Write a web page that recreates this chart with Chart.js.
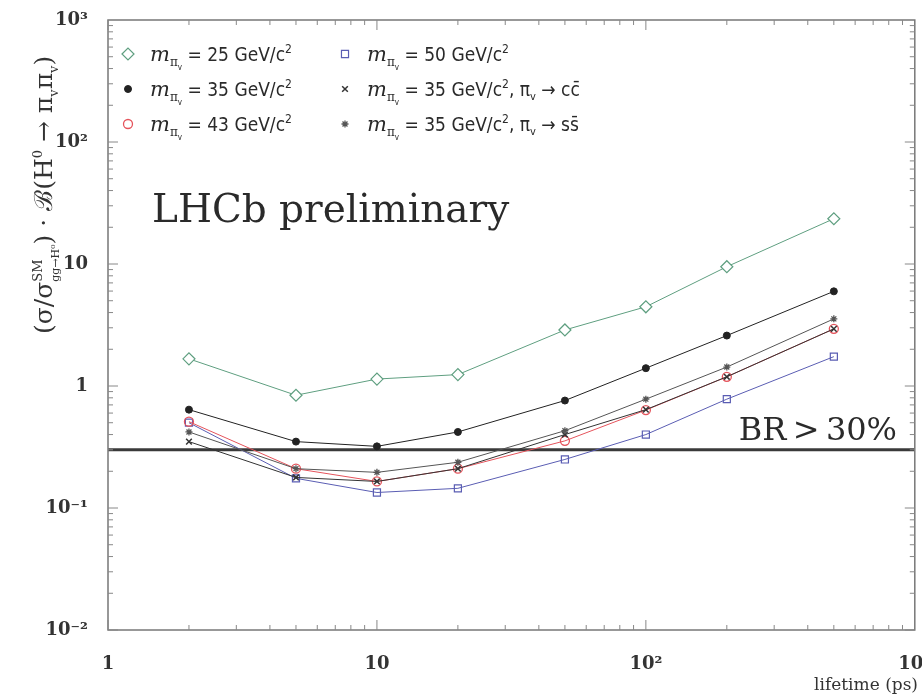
<!DOCTYPE html>
<html>
<head>
<meta charset="utf-8">
<script src="https://cdn.jsdelivr.net/npm/chart.js@4.4.1/dist/chart.umd.min.js"></script>
<style>
  html, body { margin: 0; padding: 0; background: #fff; }
  #wrap { width: 922px; height: 696px; }
</style>
</head>
<body>
<div id="wrap"><canvas id="lifetimeChart" width="922" height="696"></canvas></div>
<script>
// lifetime (ps) of the pion
const lifetimes = [2, 5, 10, 20, 50, 100, 200, 500];

// limits
const m25 = [1.67, 0.84, 1.14, 1.24, 2.88, 4.46, 9.5, 23.5];
const m35 = [0.64, 0.35, 0.32, 0.42, 0.76, 1.4, 2.59, 5.97];
const m43 = [0.51, 0.21, 0.165, 0.21, 0.355, 0.635, 1.19, 2.94];
const m50 = [0.50, 0.175, 0.134, 0.145, 0.25, 0.40, 0.78, 1.74];
const m35cc = [0.35, 0.178, 0.165, 0.21, 0.40, 0.64, 1.19, 2.94];
const m35ss = [0.42, 0.21, 0.196, 0.237, 0.43, 0.78, 1.43, 3.55];

const brLevel = 0.3;
const xRange = [1, 1000];
const yRange = [0.01, 1000];

const SERIF = '"DejaVu Serif", "Liberation Serif", serif';
const SANS = '"DejaVu Sans Condensed", "Liberation Sans Narrow", "DejaVu Sans", sans-serif';

const sup = { '-': '⁻', '0': '⁰', '1': '¹', '2': '²', '3': '³', '4': '⁴' };
function decadeLabel(v) {
  const e = Math.log10(v);
  if (Math.abs(e - Math.round(e)) > 1e-6) return '';
  const n = Math.round(e);
  if (n === 0) return '1';
  if (n === 1) return '10';
  return '10' + String(n).split('').map(c => sup[c]).join('');
}

function series(vals, color, style, radius, fill, bw) {
  return {
    data: lifetimes.map((x, i) => ({ x: x, y: vals[i] })),
    borderColor: color,
    borderWidth: 1,
    pointStyle: style,
    pointRadius: radius,
    pointBorderColor: color,
    pointBackgroundColor: fill,
    pointBorderWidth: bw,
    fill: false,
    tension: 0
  };
}

const datasets = [
  series(m25, '#5f9f80', 'rectRot', 6, '#fff', 1.2),
  series(m35, '#222', 'circle', 3.5, '#222', 1),
  series(m35ss, '#555', 'star', 3.5, '#555', 1.3),
  series(m35cc, '#333', 'crossRot', 4, '#333', 1.5),
  series(m43, '#e5545c', 'circle', 4.5, 'rgba(0,0,0,0)', 1.3),
  series(m50, '#5a5db3', 'rect', 5, 'rgba(0,0,0,0)', 1.2),
  {
    data: [{ x: xRange[0], y: brLevel }, { x: xRange[1], y: brLevel }],
    borderColor: '#3a3a3a',
    borderWidth: 3,
    pointRadius: 0,
    fill: false
  }
];

// draw a run of text pieces; piece = [text, font, dy] or {sup, sub, font}
function drawRun(ctx, parts, x, y) {
  let cx = x;
  for (const p of parts) {
    if (Array.isArray(p)) {
      ctx.font = p[1];
      ctx.fillText(p[0], cx, y + (p[2] || 0));
      cx += ctx.measureText(p[0]).width;
    } else {
      ctx.font = p.font;
      ctx.fillText(p.sup, cx, y + p.supDy);
      const w1 = ctx.measureText(p.sup).width;
      ctx.font = p.subFont || p.font;
      ctx.fillText(p.sub, cx, y + p.subDy);
      cx += Math.max(w1, ctx.measureText(p.sub).width);
    }
  }
  return cx - x;
}

function legendParts(mass, extra) {
  const big = '19px ' + SANS;
  const parts = [
    ['m', 'italic 21px ' + SERIF, 0],
    ['π', '12px ' + SERIF, 5],
    ['v', '8px ' + SANS, 9],
    [' = ' + mass + ' GeV/c', big, 0],
    ['2', '12px ' + SANS, -8]
  ];
  if (extra) {
    parts.push([', π', big, 0]);
    parts.push(['v', '11px ' + SANS, 4]);
    parts.push([' → ' + extra, big, 0]);
  }
  return parts;
}

const legendItems = [
  { col: 0, row: 0, ds: 0, mass: '25' },
  { col: 0, row: 1, ds: 1, mass: '35' },
  { col: 0, row: 2, ds: 4, mass: '43' },
  { col: 1, row: 0, ds: 5, mass: '50' },
  { col: 1, row: 1, ds: 3, mass: '35', extra: 'cc\u0304' },
  { col: 1, row: 2, ds: 2, mass: '35', extra: 'ss\u0304' }
];

const decorations = {
  id: 'decorations',
  afterDatasetsDraw(chart) {
    const ctx = chart.ctx;
    const a = chart.chartArea;
    const xs = chart.scales.x, ys = chart.scales.y;
    ctx.save();

    // frame
    ctx.strokeStyle = '#777';
    ctx.lineWidth = 1.5;
    ctx.strokeRect(a.left, a.top, a.right - a.left, a.bottom - a.top);

    // inward tick marks
    ctx.lineWidth = 1;
    ctx.strokeStyle = '#888';
    for (let d = -2; d <= 2; d++) {
      for (let k = 1; k <= 9; k++) {
        const v = k * Math.pow(10, d);
        const len = k === 1 ? 10 : 5;
        const py = ys.getPixelForValue(v);
        ctx.beginPath();
        ctx.moveTo(a.left, py); ctx.lineTo(a.left + len, py);
        ctx.moveTo(a.right, py); ctx.lineTo(a.right - len, py);
        ctx.stroke();
      }
    }
    for (let d = 0; d <= 2; d++) {
      for (let k = 1; k <= 9; k++) {
        const v = k * Math.pow(10, d);
        const len = k === 1 ? 10 : 5;
        const px = xs.getPixelForValue(v);
        ctx.beginPath();
        ctx.moveTo(px, a.bottom); ctx.lineTo(px, a.bottom - len);
        ctx.moveTo(px, a.top); ctx.lineTo(px, a.top + len);
        ctx.stroke();
      }
    }

    // legend
    const colX = [128, 345], rowY = [54, 89, 124], textOff = 22;
    ctx.textBaseline = 'alphabetic';
    ctx.textAlign = 'left';
    for (const it of legendItems) {
      const ds = chart.data.datasets[it.ds];
      const mx = colX[it.col], my = rowY[it.row];
      ctx.fillStyle = ds.pointBackgroundColor;
      ctx.strokeStyle = ds.pointBorderColor;
      ctx.lineWidth = ds.pointBorderWidth;
      Chart.helpers.drawPoint(ctx, {
        pointStyle: ds.pointStyle,
        radius: ds.pointRadius,
        rotation: 0,
        borderWidth: ds.pointBorderWidth
      }, mx, my);
      ctx.fillStyle = '#2a2a2a';
      drawRun(ctx, legendParts(it.mass, it.extra), mx + textOff, my + 7);
    }

    // big labels
    ctx.fillStyle = '#2a2a2a';
    ctx.font = '39px ' + SERIF;
    ctx.fillText('LHCb preliminary', 152, 222);
    ctx.font = '32px ' + SERIF;
    ctx.textAlign = 'right';
    ctx.fillText('BR\u2009>\u200930%', 897, 440);

    // x title
    ctx.font = '17px ' + SERIF;
    ctx.fillStyle = '#333';
    ctx.fillText('lifetime (ps)', 918, 690);

    // y title
    ctx.textAlign = 'left';
    ctx.translate(52, 334);
    ctx.rotate(-Math.PI / 2);
    const f = '25px ' + SERIF;
    drawRun(ctx, [
      ['(σ/σ', f, 0],
      { sup: 'SM', sub: 'gg→H⁰', font: '13px ' + SERIF, subFont: '11px ' + SERIF, supDy: -10, subDy: 7 },
      [') · ℬ(H', f, 0],
      ['0', '13px ' + SERIF, -10],
      [' → π', f, 0],
      ['v', '13px ' + SERIF, 6],
      ['π', f, 0],
      ['v', '13px ' + SERIF, 6],
      [')', f, 0]
    ], 0, 0);
    ctx.restore();
  }
};

const config = {
  type: 'line',
  data: { datasets: datasets },
  options: {
    responsive: false,
    animation: false,
    layout: { padding: { top: 20, right: 4, left: 0, bottom: 0 } },
    plugins: { legend: { display: false }, tooltip: { enabled: false } },
    scales: {
      x: {
        type: 'logarithmic',
        min: xRange[0],
        max: xRange[1],
        grid: { display: false },
        border: { display: false },
        ticks: {
          autoSkip: false,
          maxRotation: 0,
          padding: 16,
          color: '#333',
          font: { family: SERIF, size: 18, weight: 'bold' },
          callback: v => decadeLabel(v)
        },
        afterFit(s) { s.height = 66; s.paddingLeft = 0; s.paddingRight = 0; }
      },
      y: {
        type: 'logarithmic',
        min: yRange[0],
        max: yRange[1],
        grid: { display: false },
        border: { display: false },
        ticks: {
          autoSkip: false,
          padding: 12,
          color: '#333',
          font: { family: SERIF, size: 18, weight: 'bold' },
          callback: v => decadeLabel(v)
        },
        afterFit(s) { s.width = 108; s.paddingTop = 0; s.paddingBottom = 0; }
      }
    }
  },
  plugins: [decorations]
};

const chart = new Chart(document.getElementById('lifetimeChart'), config);
</script>
</body>
</html>
